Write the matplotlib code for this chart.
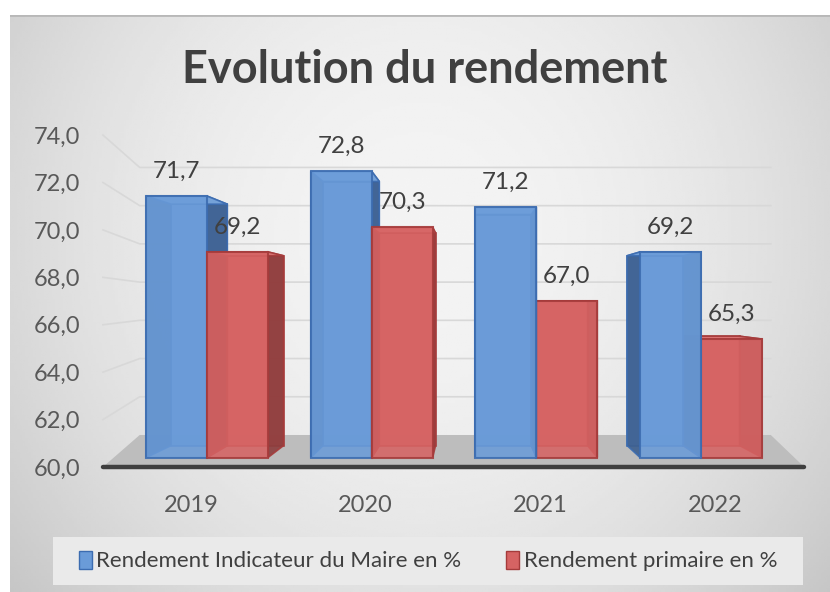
import numpy as np
import matplotlib.pyplot as plt
from matplotlib.patches import Polygon, Rectangle, Patch

# data
years = ['2019', '2020', '2021', '2022']
maire = [71.7, 72.8, 71.2, 69.2]
primaire = [69.2, 70.3, 67.0, 65.3]
series_names = ['Rendement Indicateur du Maire en %', 'Rendement primaire en %']
y_ticks = [60, 62, 64, 66, 68, 70, 72, 74]

plt.rcParams['font.family'] = ['Lato', 'DejaVu Sans']

# colours (front, edge, side, top)
blue = ('#6a9bd8', '#3c6cb0', '#3d5f8f', '#7aa8e0')
red = ('#d66363', '#a53b3b', '#8c3d3d', '#e07a7a')

# fake 3D: everything is pushed toward a vanishing point
xv, yv = 1.6, 66.96
s_front, s_back, s_wall = 0.9426, 0.87, 0.806
floor_sx = 0.9
bar_w = 0.37
x_left, x_right = -0.504, 3.51


def proj(x, y, s, sx=None):
    if sx is None:
        sx = s
    return (xv + (x - xv) * sx, yv + (y - yv) * s)


fig = plt.figure(figsize=(8.3, 5.92), dpi=100)
fig.patch.set_facecolor('white')

# chart area background (grey gradient like excel)
bg = fig.add_axes([10 / 830, 0, 820 / 830, 1 - 15 / 592], zorder=-5)
gx, gy = np.meshgrid(np.linspace(-1, 1, 300), np.linspace(-1, 1, 200))
grad = 0.955 - 0.13 * np.clip(np.sqrt((gx * 0.9) ** 2 + ((gy + 0.25) * 0.6) ** 2), 0, 1.3) ** 2
bg.imshow(grad, cmap='gray', vmin=0, vmax=1, aspect='auto', extent=[0, 1, 0, 1])
bg.axhline(1, color='#b8b8b8', lw=2)
bg.axis('off')

ax = fig.add_axes([100 / 830, 112 / 592, 710 / 830, 360 / 592])
ax.set_xlim((100 - 191) / 174.7, (810 - 191) / 174.7)
ax.set_ylim(60 - 13 / 23.71, 60 + 347 / 23.71)
ax.patch.set_alpha(0)
for sp in ax.spines.values():
    sp.set_visible(False)

# floor
fl = [proj(x_left, 60, 1), proj(x_right, 60, 1),
      proj(x_right, 60, s_wall, floor_sx), proj(x_left, 60, s_wall, floor_sx)]
ax.add_patch(Polygon(fl, closed=True, facecolor='#bdbdbd', edgecolor='none', zorder=1))
ax.plot([x_left, x_right], [60, 60], color='#3f3f3f', lw=3.2, solid_capstyle='round', zorder=2)

# gridlines on the back wall
for g in y_ticks[1:]:
    p0 = proj(x_left, g, 1)
    p1 = proj(x_left, g, s_wall, floor_sx)
    p2 = proj(x_right, g, s_wall, floor_sx)
    ax.plot([p0[0], p1[0], p2[0]], [p0[1], p1[1], p2[1]], color='#d8d8d8', lw=1.2, zorder=0.5)

ax.set_yticks(y_ticks)
ax.set_yticklabels([('%.1f' % t).replace('.', ',') for t in y_ticks], fontsize=17, color='#595959')
ax.set_xticks(range(len(years)))
ax.set_xticklabels(years, fontsize=17, color='#595959')
ax.tick_params(length=0)
ax.tick_params(axis='y', pad=14)
ax.tick_params(axis='x', pad=11)

# bars
bars = []
for i in range(len(years)):
    bars.append((i - bar_w, i, maire[i], blue))
    bars.append((i, i + bar_w, primaire[i], red))
bars.sort(key=lambda b: -abs((b[0] + b[1]) / 2 - xv))

z = 3
for x0, x1, v, col in bars:
    front, edge, side, top = col
    fb = [proj(x0, 60, s_back), proj(x1, 60, s_back), proj(x1, v, s_back), proj(x0, v, s_back)]
    ff = [proj(x0, 60, s_front), proj(x1, 60, s_front), proj(x1, v, s_front), proj(x0, v, s_front)]
    faces = [
        (fb, front),
        ([ff[0], ff[3], fb[3], fb[0]], side),
        ([ff[1], ff[2], fb[2], fb[1]], side),
        ([ff[3], ff[2], fb[2], fb[3]], top),
    ]
    for pts, fc in faces:
        ax.add_patch(Polygon(pts, closed=True, facecolor=fc, edgecolor=edge,
                             lw=1.2, alpha=0.9, zorder=z))
    z += 0.01
    bx, by = ff[0]
    ax.bar(bx, ff[2][1] - by, width=ff[1][0] - bx, bottom=by, align='edge',
           color=front, edgecolor=edge, lw=1.5, alpha=0.88, zorder=z)
    z += 0.01
    cx = (ff[0][0] + ff[1][0]) / 2
    ax.annotate(('%.1f' % v).replace('.', ','), (cx, ff[2][1]), xytext=(0, 18),
                textcoords='offset points', ha='center', va='center',
                fontsize=17.5, color='#404040', zorder=20)

fig.text(0.512, 1 - 70 / 592, 'Evolution du rendement', ha='center', va='center',
         fontsize=32.5, fontweight='bold', color='#404040')

# legend
fig.patches.append(Rectangle((53 / 830, 1 - 585 / 592), 750 / 830, 48 / 592,
                             transform=fig.transFigure, facecolor='#eaeaea',
                             edgecolor='none', zorder=1))
handles = [Patch(facecolor=blue[0], edgecolor=blue[1]), Patch(facecolor=red[0], edgecolor=red[1])]
fig.legend(handles, series_names, loc='center', bbox_to_anchor=(0.5157, 1 - 561 / 592),
           ncol=2, frameon=False, fontsize=16, handlelength=0.6, handleheight=0.9,
           handletextpad=0.2, columnspacing=2.0, labelcolor='#404040')

fig.savefig('out.png', dpi=100)
